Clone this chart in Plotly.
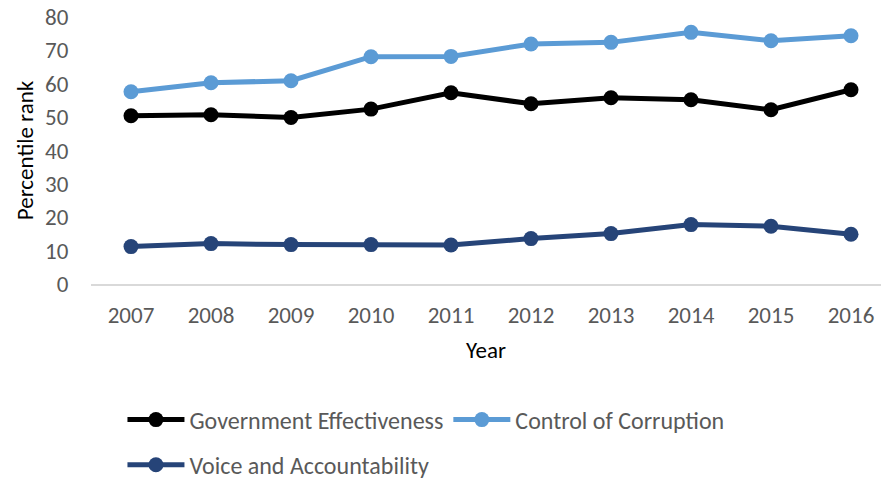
import plotly.graph_objects as go

years = ["2007", "2008", "2009", "2010", "2011", "2012", "2013", "2014", "2015", "2016"]
gov_eff = [50.4, 50.7, 49.9, 52.4, 57.3, 54.0, 55.8, 55.2, 52.2, 58.2]
ctrl_corr = [57.6, 60.3, 60.9, 68.1, 68.2, 71.9, 72.4, 75.4, 72.9, 74.4]
voice_acc = [11.2, 12.1, 11.8, 11.8, 11.7, 13.6, 15.1, 17.8, 17.3, 14.9]

FONT = "Carlito, Lato, sans-serif"
GREY = "#595959"
FS = 23

fig = go.Figure()
fig.add_trace(go.Scatter(x=years, y=gov_eff, name="Government Effectiveness", mode="lines+markers",
                         line=dict(color="#000000", width=5), marker=dict(size=15, color="#000000"),
                         legend="legend"))
fig.add_trace(go.Scatter(x=years, y=ctrl_corr, name="Control of Corruption", mode="lines+markers",
                         line=dict(color="#5B9BD5", width=5), marker=dict(size=15, color="#5B9BD5"),
                         legend="legend"))
fig.add_trace(go.Scatter(x=years, y=voice_acc, name="Voice and Accountability", mode="lines+markers",
                         line=dict(color="#264478", width=5), marker=dict(size=15, color="#264478"),
                         legend="legend2"))

fig.update_layout(
    width=881, height=480,
    margin=dict(l=91, r=0, t=17, b=196, autoexpand=False),
    plot_bgcolor="white", paper_bgcolor="white",
    font=dict(family=FONT, size=FS, color=GREY),
    xaxis=dict(
        type="category", range=[-0.5, 9.375],
        showgrid=False, zeroline=False,
        showline=True, linecolor="#D9D9D9", linewidth=2,
        ticks="outside", ticklen=9, tickcolor="rgba(0,0,0,0)",
        tickfont=dict(size=FS, color=GREY),
        title=dict(text="Year", font=dict(size=FS, color="#000000"), standoff=14),
    ),
    yaxis=dict(
        range=[0, 80], tickvals=[0, 10, 20, 30, 40, 50, 60, 70, 80],
        showgrid=False, zeroline=False, showline=False,
        ticks="outside", ticklen=17, tickcolor="rgba(0,0,0,0)",
        tickfont=dict(size=FS, color=GREY),
        title=dict(text="Percentile rank", font=dict(size=FS, color="#000000"), standoff=5),
    ),
    legend=dict(orientation="h", xref="container", yref="container",
                x=0.139, xanchor="left", y=0.125, yanchor="middle",
                itemwidth=57, font=dict(size=24, color=GREY), bgcolor="rgba(0,0,0,0)"),
    legend2=dict(orientation="h", xref="container", yref="container",
                 x=0.139, xanchor="left", y=0.031, yanchor="middle",
                 itemwidth=57, font=dict(size=24, color=GREY), bgcolor="rgba(0,0,0,0)"),
    showlegend=True,
)

fig.write_html("out.html")
